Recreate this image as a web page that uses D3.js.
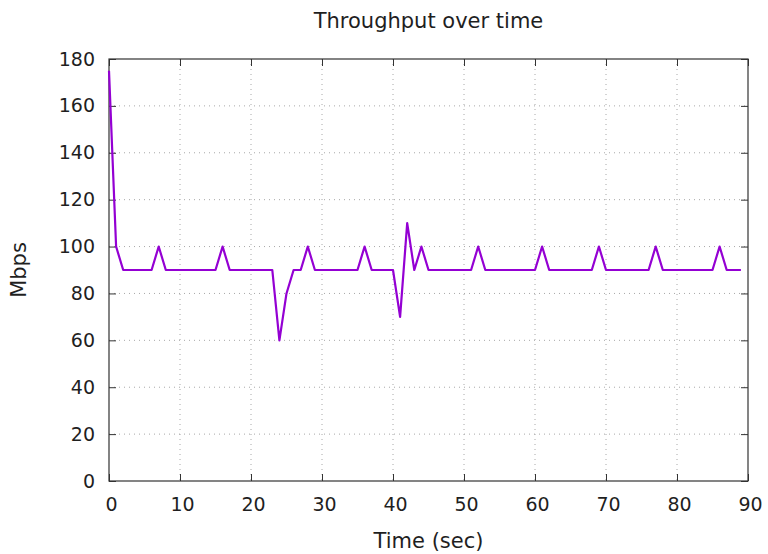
<!DOCTYPE html>
<html>
<head>
<meta charset="utf-8">
<script src="https://cdn.jsdelivr.net/npm/d3@7"></script>
<style>
  html, body { margin: 0; padding: 0; background: #fff; }
  svg text { font-family: "DejaVu Sans", sans-serif; fill: #1f1f1f; }
</style>
</head>
<body>
<svg id="chart" width="768" height="554"></svg>
<script>
// Throughput samples, one per second
const seconds = [
   0,  1,  2,  3,  4,  5,  6,  7,  8,  9,
  10, 11, 12, 13, 14, 15, 16, 17, 18, 19,
  20, 21, 22, 23, 24, 25, 26, 27, 28, 29,
  30, 31, 32, 33, 34, 35, 36, 37, 38, 39,
  40, 41, 42, 43, 44, 45, 46, 47, 48, 49,
  50, 51, 52, 53, 54, 55, 56, 57, 58, 59,
  60, 61, 62, 63, 64, 65, 66, 67, 68, 69,
  70, 71, 72, 73, 74, 75, 76, 77, 78, 79,
  80, 81, 82, 83, 84, 85, 86, 87, 88, 89
];
const mbps = [
  175, 100,  90,  90,  90,  90,  90, 100,  90,  90,
   90,  90,  90,  90,  90,  90, 100,  90,  90,  90,
   90,  90,  90,  90,  60,  80,  90,  90, 100,  90,
   90,  90,  90,  90,  90,  90, 100,  90,  90,  90,
   90,  70, 110,  90, 100,  90,  90,  90,  90,  90,
   90,  90, 100,  90,  90,  90,  90,  90,  90,  90,
   90, 100,  90,  90,  90,  90,  90,  90,  90, 100,
   90,  90,  90,  90,  90,  90,  90, 100,  90,  90,
   90,  90,  90,  90,  90,  90, 100,  90,  90,  90
];
const xTicks = [0, 10, 20, 30, 40, 50, 60, 70, 80, 90];
const yTicks = [0, 20, 40, 60, 80, 100, 120, 140, 160, 180];

const title = "Throughput over time";
const xTitle = "Time (sec)";
const yTitle = "Mbps";

const W = 768, H = 554;
const margin = { top: 59, right: 20, bottom: 73, left: 109 };
const iw = W - margin.left - margin.right;
const ih = H - margin.top - margin.bottom;

const svg = d3.select("#chart");
const g = svg.append("g").attr("transform", `translate(${margin.left},${margin.top})`);

const x = d3.scaleLinear().domain([0, 90]).range([0, iw]);
const y = d3.scaleLinear().domain([0, 180]).range([ih, 0]);

// dotted grid
const grid = g.append("g").attr("stroke", "#a8a8a8").attr("stroke-width", 1)
  .attr("stroke-dasharray", "1,4");
xTicks.slice(1, -1).forEach(t => {
  grid.append("line").attr("x1", x(t)).attr("x2", x(t)).attr("y1", 0).attr("y2", ih);
});
yTicks.slice(1, -1).forEach(t => {
  grid.append("line").attr("x1", 0).attr("x2", iw).attr("y1", y(t)).attr("y2", y(t));
});

// axes with inward ticks, mirrored on opposite sides
const tickLen = 7;
const xAxis = d3.axisBottom(x).tickValues(xTicks).tickSizeInner(-tickLen).tickSizeOuter(0).tickPadding(17);
const yAxis = d3.axisLeft(y).tickValues(yTicks).tickSizeInner(-tickLen).tickSizeOuter(0).tickPadding(14);

const gx = g.append("g").attr("transform", `translate(0,${ih})`).call(xAxis);
const gy = g.append("g").call(yAxis);
const gxTop = g.append("g").call(d3.axisTop(x).tickValues(xTicks).tickSizeInner(-tickLen).tickSizeOuter(0).tickFormat(""));
const gyRight = g.append("g").attr("transform", `translate(${iw},0)`)
  .call(d3.axisRight(y).tickValues(yTicks).tickSizeInner(-tickLen).tickSizeOuter(0).tickFormat(""));

[gx, gy, gxTop, gyRight].forEach(a => {
  a.select(".domain").remove();
  a.selectAll(".tick line").attr("stroke", "#333").attr("stroke-width", 1);
});
[gx, gy].forEach(a => {
  a.selectAll(".tick text").style("font-family", "'DejaVu Sans', sans-serif")
    .style("font-size", "19px").attr("fill", "#1f1f1f");
});
gx.selectAll(".tick text").attr("dx", 2);

// frame
g.append("rect").attr("x", 0).attr("y", 0).attr("width", iw).attr("height", ih)
  .attr("fill", "none").attr("stroke", "#333").attr("stroke-width", 1.2);

// series
const line = d3.line().x((d, i) => x(seconds[i])).y(d => y(d));
g.append("path").datum(mbps)
  .attr("fill", "none")
  .attr("stroke", "#9400d3")
  .attr("stroke-width", 2.2)
  .attr("stroke-linejoin", "round")
  .attr("d", line);

// titles
svg.append("text").attr("x", margin.left + iw / 2).attr("y", 28)
  .attr("text-anchor", "middle").style("font-size", "21px").text(title);
svg.append("text").attr("x", margin.left + iw / 2).attr("y", 548)
  .attr("text-anchor", "middle").style("font-size", "21px").text(xTitle);
svg.append("text").attr("transform", `translate(26,${margin.top + ih / 2}) rotate(-90)`)
  .attr("text-anchor", "middle").style("font-size", "21px").text(yTitle);
</script>
</body>
</html>
